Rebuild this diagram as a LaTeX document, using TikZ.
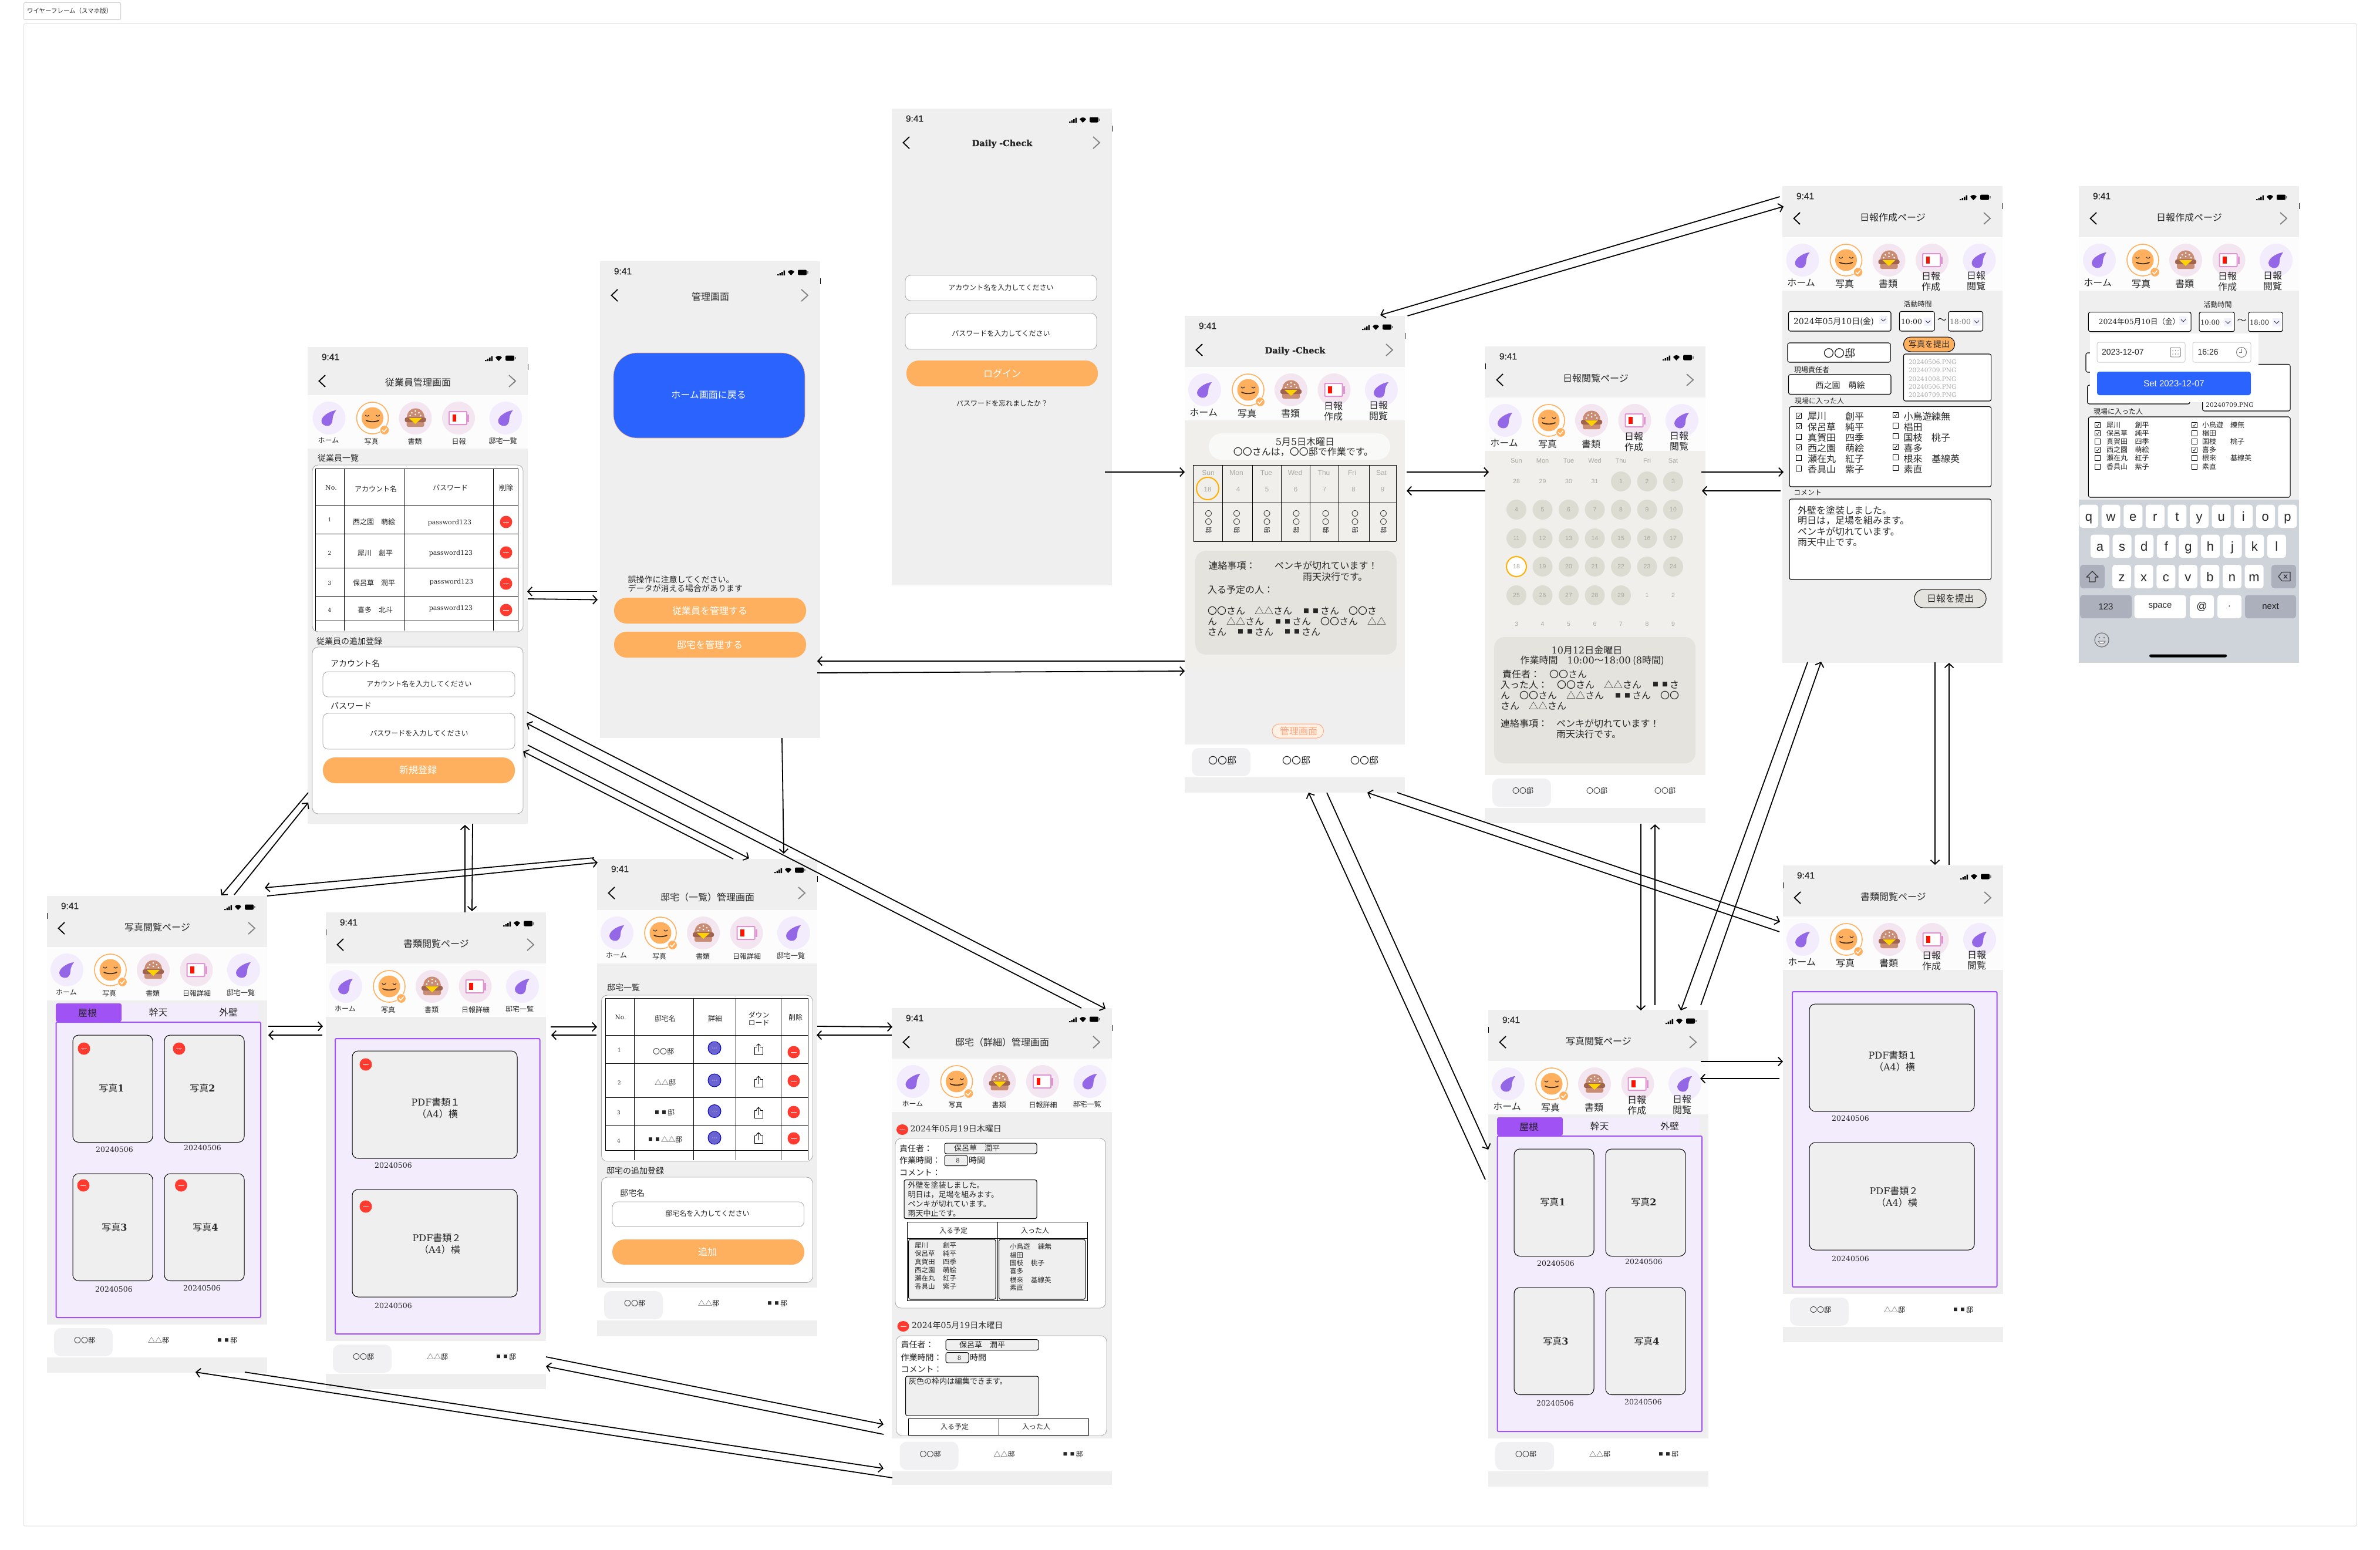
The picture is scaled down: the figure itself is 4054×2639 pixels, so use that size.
\documentclass[tikz,border=0pt]{standalone}
\usepackage{fontspec}
\setmainfont{Noto Sans CJK JP}
\newfontfamily\srf{DejaVu Serif}
\newfontfamily\snf{Liberation Sans}
\usetikzlibrary{arrows.meta}
\definecolor{scrbg}{HTML}{EFEFF0}
\definecolor{bandc}{HTML}{FDFCFD}
\definecolor{orng}{HTML}{FFB05F}
\definecolor{lpur}{HTML}{F3ECFC}
\definecolor{lpnk}{HTML}{F3E6F1}
\definecolor{leafc}{HTML}{9367E5}
\definecolor{purp}{HTML}{A052F5}
\definecolor{bluec}{HTML}{2B63FF}
\definecolor{beige}{HTML}{E5E3DD}
\definecolor{beigeb}{HTML}{F0EFEC}
\definecolor{dayc}{HTML}{DDDCD2}
\definecolor{dayt}{HTML}{A9A89F}
\definecolor{redc}{HTML}{FF3B30}
\definecolor{ringy}{HTML}{FFB000}
\definecolor{bbord}{HTML}{ABABAB}
\definecolor{tabp}{HTML}{F1F1F4}
\definecolor{keyd}{HTML}{ABB0BC}
\definecolor{keyb}{HTML}{CFD3DA}
\tikzset{
 x=1pt,y=-1pt,
 tt/.style={inner sep=0pt,outer sep=0pt,text=black!85},
 fs/.style={font=\fontsize{#1}{#1}\selectfont},
 L/.style={anchor=west},
 screen/.style={anchor=north west,minimum width=375pt,minimum height=812pt,fill=scrbg,inner sep=0pt,outer sep=0pt},
 conn/.style={line width=1.8pt,black,-{Straight Barb[length=7pt,width=15pt,line width=1.8pt]}},
 card/.style={draw=bbord,fill=white,line width=0.9pt,rounded corners=10pt},
 inputb/.style={draw=bbord,fill=white,line width=0.9pt,rounded corners=9pt},
 orbtn/.style={fill=orng,rounded corners=21pt},
 grid/.style={line width=1pt,black},
 blk/.style={draw=black,line width=1.1pt,fill=white,rounded corners=3pt},
 gbox/.style={draw=black,line width=1pt,fill=scrbg,rounded corners=3pt},
 panel/.style={draw=purp,line width=2pt,fill=lpur,rounded corners=2pt},
 photo/.style={draw=black,line width=1pt,fill=scrbg,rounded corners=10pt},
 key/.style={fill=white,rounded corners=5pt},
 dkey/.style={fill=keyd,rounded corners=5pt},
}
\newcount\txcnt
\newcommand\tx[4][]{\global\advance\txcnt by 1\relax\node[tt,#1] (t\the\txcnt) at (#2,#3) {#4};}
\newcommand\srn[1]{{\srf #1}}
\newcommand\sqq{\makebox[1em]{\raisebox{.13em}{\scalebox{.62}{■}}}}
\newcommand\dcheck{{\srf\bfseries\addfontfeature{FakeBold=1.4}\fontsize{14.5}{14.5}\selectfont Daily -Check}}
\newcommand\conx[3]{\coordinate (#1a) at (#2);\coordinate (#1b) at (#3);\draw[conn] (#1a) -- (#1b);}
% icons
\newcommand\icleaf[2]{\begin{scope}[shift={(#1,#2)}]
 \fill[lpur] (0,0) circle[radius=28pt];
 \fill[leafc] (12,-13) .. controls (4,-13) and (-13,-4) .. (-13,5) .. controls (-13,11) and (-7,13.5) .. (-3,13.5) .. controls (3,13.5) and (6,8) .. (6,2) .. controls (6,-4) and (9,-9) .. (12,-13) -- cycle;
\end{scope}}
\newcommand\icface[2]{\begin{scope}[shift={(#1,#2)}]
 \draw[orng,fill=white,line width=1.6pt] (0,0) circle[radius=27pt];
 \fill[orng] (0,0) circle[radius=18.5pt];
 \draw[black!80,line width=1.2pt,line cap=round] (-12,-5) .. controls (-10,-2.5) and (-8,-2.5) .. (-6,-5) (6,-5) .. controls (8,-2.5) and (10,-2.5) .. (12,-5);
 \draw[black!75!orng,line width=1.8pt,line cap=round] (-11,4) .. controls (-5,7) and (5,7) .. (11,4);
 \draw[white,fill=orng,line width=1pt] (20.5,20.5) circle[radius=8pt];
 \draw[white,line width=1.5pt] (16.5,20.5) -- (19.5,23.5) -- (24.5,17.5);
\end{scope}}
\definecolor{bunc}{HTML}{C98C74}
\definecolor{pattyc}{HTML}{A0644E}
\definecolor{battc}{HTML}{DE94CE}
\newcommand\icburger[2]{\begin{scope}[shift={(#1,#2)}]
 \fill[lpnk] (0,0) circle[radius=28pt];
 \fill[bunc,rounded corners=3pt] (-15,5) rectangle (15,15);
 \fill[bunc] (-15,0) .. controls (-15,-22) and (15,-22) .. (15,0) -- cycle;
 \fill[pattyc,rounded corners=3pt] (-18,-1) rectangle (18,7);
 \fill[yellow!70!orange] (-11,0) -- (11,0) -- (0,10) -- cycle;
 \foreach \a/\b in {0/-12,-6/-9,6/-9,-9/-4,0/-6,9/-4}{\fill[white] (\a,\b) circle[radius=1.5pt];}
\end{scope}}
\newcommand\icbatt[2]{\begin{scope}[shift={(#1,#2)}]
 \fill[lpnk] (0,0) circle[radius=28pt];
 \draw[battc,fill=white,line width=2pt,rounded corners=1pt] (-16,-11) rectangle (14,11);
 \fill[battc] (15,-6.5) rectangle (18,6.5);
 \fill[red!85!orange] (-10.3,-5.7) rectangle (-3.7,5.7);
\end{scope}}
\newcommand\icons[2]{%dx dy
 \fill[bandc] (0,87+#2) rectangle (375,178+#2);
 \icleaf{34+#1}{126+#2}\icface{108+#1}{126+#2}\icburger{181+#1}{126+#2}\icbatt{254.5+#1}{126+#2}\icleaf{335+#1}{126+#2}}
\newcommand\labA[3]{% dx dy 4th label
 \tx[fs=12]{33+#1}{164+#2}{ホーム}\tx[fs=12]{106+#1}{166+#2}{写真}\tx[fs=12]{180+#1}{166+#2}{書類}\tx[fs=12]{255+#1}{166+#2}{#3}\tx[fs=12]{330+#1}{165+#2}{邸宅一覧}}
\newcommand\labB{%
 \tx[fs=16]{32}{164}{ホーム}\tx[fs=16]{106}{166}{写真}\tx[fs=16]{180}{166}{書類}\tx[fs=16]{253}{153}{日報}\tx[fs=16]{253}{171}{作成}\tx[fs=16]{330}{152}{日報}\tx[fs=16]{330}{170}{閲覧}}
\newcommand\hdr[4]{% title ty cy edge
 \tx[fs=15.5]{39}{17}{\snf\addfontfeature{FakeBold=0.5}9:41}
 \fill[black] (302,22) rectangle (304.5,24) (305.5,20) rectangle (308,24) (309,18) rectangle (311.5,24) (312.5,15.5) rectangle (315,24);
 \fill[black] (320,18) .. controls (323,14) and (328,14) .. (331,18) -- (325.5,24) -- cycle;
 \fill[black,rounded corners=2pt] (337,14.5) rectangle (352,23.5);
 \fill[black!50] (353,17) rectangle (354.5,21);
 \draw[black,line width=1.8pt] (30,#3-10) -- (19.5,#3) -- (30,#3+10);
 \draw[black!50,line width=1.8pt] (343,#3-10) -- (354,#3) -- (343,#3+10);
 \tx[fs=16]{188}{#2}{#1}
 \draw[black,line width=1pt] (#4,29) -- (#4,39);}
\newcommand\tabsb[6]{% fs a b c dx dy
 \fill[white] (0,730+#6) rectangle (375,786+#6);
 \fill[tabp,rounded corners=12pt] (12+#5,736+#6) rectangle (112+#5,784+#6);
 \tx[fs=#1]{64+#5}{757+#6}{#2}\tx[fs=#1]{190+#5}{757+#6}{#3}\tx[fs=#1]{306+#5}{757+#6}{#4}}
\newcommand\minusb[2]{\fill[redc] (#1,#2) circle[radius=10.5pt];\draw[white,line width=0.8pt] (#1-5,#2) -- (#1+5,#2);}
\newcommand\phototabs{%
 \fill[lpur] (127,183) rectangle (360,213);
 \fill[purp,rounded corners=3pt] (15,183) rectangle (127,214);
 \tx[fs=16]{69}{199}{屋根}\tx[fs=16]{189.5}{198}{幹天}\tx[fs=16]{309}{198}{外壁}}
\newcommand\photopanel{%
 \draw[panel] (15.5,215) rectangle (364,718);
 \draw[photo] (44,237) rectangle (180,419.5);\draw[photo] (200,237) rectangle (336,419.5);
 \draw[photo] (44,473) rectangle (180,655.5);\draw[photo] (200,473) rectangle (336,655.5);
 \tx[fs=16]{110}{327}{写真{\srf\bfseries 1}}\tx[fs=16]{265}{327}{写真{\srf\bfseries 2}}
 \tx[fs=16]{115}{564}{写真{\srf\bfseries 3}}\tx[fs=16]{270}{564}{写真{\srf\bfseries 4}}
 \tx[fs=12.5]{115}{432}{\srf 20240506}\tx[fs=12.5]{265}{429}{\srf 20240506}
 \tx[fs=12.5]{114}{670}{\srf 20240506}\tx[fs=12.5]{264}{668}{\srf 20240506}}
\newcommand\docpanel{%
 \draw[panel] (16,215) rectangle (364.5,718);
 \draw[photo] (45,236) rectangle (326,419);\draw[photo] (45,472) rectangle (326,655);
 \tx[fs=16]{187}{323}{\srn{PDF}書類１}\tx[fs=16]{190}{343}{（\srn{A4}）横}
 \tx[fs=16]{189}{554}{\srn{PDF}書類２}\tx[fs=16]{194}{574}{（\srn{A4}）横}
 \tx[fs=12.5]{115}{431}{\srf 20240506}\tx[fs=12.5]{115}{670}{\srf 20240506}}
\newcommand\cb[3]{\draw[black,line width=0.9pt,fill=white] (#1-4.5,#2-4.5) rectangle (#1+4.5,#2+4.5);
 \ifnum#3=1 \draw[black,line width=0.7pt] (#1-2.5,#2) -- (#1-0.5,#2+2.2) -- (#1+2.7,#2-2.5);\fi}
\newcommand\ddn[2]{\fill[blue!5] (#1-7,#2-7) rectangle (#1+7,#2+7);\draw[black!80,line width=0.9pt] (#1-4,#2-2) -- (#1,#2+2) -- (#1+4,#2-2);}
\newcommand\sharei[2]{\draw[black,line width=1pt] (#1-3,#2-5) -- (#1-7,#2-5) -- (#1-7,#2+8) -- (#1+7,#2+8) -- (#1+7,#2-5) -- (#1+3,#2-5);
 \draw[black,line width=1pt] (#1,#2+3) -- (#1,#2-10) (#1-3.5,#2-6.5) -- (#1,#2-10) -- (#1+3.5,#2-6.5);}
\definecolor{detc}{HTML}{6A63D0}
\newcommand\detb[2]{\draw[blue!70!black,fill=detc,line width=1pt] (#1,#2) circle[radius=11pt];\fill[white] (#1-3,#2) circle[radius=.6pt] (#1,#2) circle[radius=.6pt] (#1+3,#2) circle[radius=.6pt];}
\begin{document}
\begin{tikzpicture}
\useasboundingbox (0,0) rectangle (4054,2639);
\fill[white] (0,0) rectangle (4054,2639);
% frame
\draw[black!12,line width=1pt,rounded corners=2pt] (40.5,40.5) rectangle (4014,2599);
\draw[black!18,line width=1pt,rounded corners=2pt] (40.5,4.5) rectangle (205.5,33.5);
\tx[fs=10.5,L]{46}{19}{ワイヤーフレーム（スマホ版）}

% ================ S1 employees
\node[screen] (s1) at (524,591) {};
\begin{scope}[shift={(524,591)}]
\hdr{従業員管理画面}{60}{58}{375}
\icons{2.5}{-5}
\labA{2.5}{-5}{日報}
\tx[fs=14,L]{17}{189}{従業員一覧}
\draw[card] (8,201) rectangle (367,485);
\draw[grid] (13,207) -- (358,207) (13,270) -- (358,270) (13,318) -- (358,318) (13,376) -- (358,376) (13,424) -- (358,424) (13,466) -- (358,466);
\draw[grid] (13,207) -- (13,483) (62,207) -- (62,483) (164,207) -- (164,483) (316,207) -- (316,483) (358,207) -- (358,483);
\tx[fs=11]{40}{240}{\srf No.}\tx[fs=12]{116}{242}{アカウント名}\tx[fs=12]{243}{240}{パスワード}\tx[fs=12]{338}{240}{削除}
\tx[fs=9]{37.5}{294}{\srf 1}\tx[fs=12]{113}{297.5}{西之園　萌絵}\tx[fs=11]{242}{299}{\srf password123}\minusb{338}{298}
\tx[fs=9]{37.5}{351}{\srf 2}\tx[fs=12]{115}{351}{犀川　創平}\tx[fs=11]{244}{351}{\srf password123}\minusb{338}{350}
\tx[fs=9]{37.5}{402}{\srf 3}\tx[fs=12]{113}{402}{保呂草　潤平}\tx[fs=11]{245}{400}{\srf password123}\minusb{338}{403}
\tx[fs=9]{37.5}{448}{\srf 4}\tx[fs=12]{115}{448}{喜多　北斗}\tx[fs=11]{244}{445}{\srf password123}\minusb{338}{448}
\tx[fs=14,L]{15}{501}{従業員の追加登録}
\draw[card] (8,511) rectangle (367,795);
\tx[fs=14,L]{39}{539}{アカウント名}
\draw[inputb] (26,553) rectangle (353,596);
\tx[fs=12]{190}{574}{アカウント名を入力してください}
\tx[fs=14,L]{39}{611}{パスワード}
\draw[inputb] (26,624) rectangle (353,685);
\tx[fs=12]{190}{658}{パスワードを入力してください}
\fill[orbtn] (26,699) rectangle (353,743);
\tx[fs=16,text=white]{188}{720}{新規登録}
\end{scope}

% ================ S2 admin
\node[screen] (s2) at (1022,445) {};
\begin{scope}[shift={(1022,445)}]
\hdr{管理画面}{60}{58}{375}
\draw[orng,fill=bluec,line width=.6pt,rounded corners=40pt] (23,156) rectangle (349,301);
\tx[fs=16,text=white]{185}{228}{ホーム画面に戻る}
\tx[fs=14,L]{47.5}{542}{誤操作に注意してください。}
\tx[fs=14,L]{47.5}{557}{データが消える場合があります}
\fill[orbtn] (24,573) rectangle (351,617);
\tx[fs=16,text=white]{187}{595}{従業員を管理する}
\fill[orbtn] (24,631) rectangle (351,675);
\tx[fs=16,text=white]{187}{653}{邸宅を管理する}
\end{scope}

% ================ S3 login
\node[screen] (s3) at (1519,185) {};
\begin{scope}[shift={(1519,185)}]
\hdr{\dcheck}{60}{58}{375}
\draw[inputb] (23,284) rectangle (349,327);
\tx[fs=12]{186}{305}{アカウント名を入力してください}
\draw[inputb] (23,349) rectangle (349,410);
\tx[fs=12]{186}{383}{パスワードを入力してください}
\fill[orbtn] (25,429) rectangle (351,473);
\tx[fs=16,text=white]{188}{451}{ログイン}
\tx[fs=12]{188}{502}{パスワードを忘れましたか？}
\end{scope}

% ================ S4 home
\node[screen] (s4) at (2018,538) {};
\begin{scope}[shift={(2018,538)}]
\fill[beigeb] (0,179) rectangle (375,600);
\hdr{\dcheck}{60}{58}{375}
\icons{0}{0}
\labB
\fill[white!60!beigeb,rounded corners=22pt] (41,200) rectangle (350,245);
\tx[fs=16]{205}{214}{\srn{5}月\srn{5}日木曜日}
\tx[fs=16]{202}{232}{〇〇さんは，〇〇邸で作業です。}
\draw[grid] (14.7,254) -- (360,254) (14.7,318) -- (360,318) (14.7,384) -- (360,384);
\draw[grid] (14.7,254) -- (14.7,384) (64,254) -- (64,384) (115,254) -- (115,384) (164,254) -- (164,384) (213,254) -- (213,384) (262,254) -- (262,384) (314,254) -- (314,384) (360,254) -- (360,384);
\foreach \xa/\wdn/\xb/\dn/\xc in {40/Sun/39/18/40.5,88/Mon/91/4/88.6,139/Tue/140/5/140,188/Wed/189/6/190,237/Thu/238/7/240,285/Fri/287.5/8/290,335/Sat/337/9/338.6}{
 \tx[fs=12,text=dayt]{\xa}{267}{\snf \wdn}
 \ifnum\dn=18 \draw[ringy,line width=2pt] (\xb,294) circle[radius=19pt];\fi
 \tx[fs=11.5,text=dayt]{\xb}{296}{\snf \dn}
 \tx[fs=12]{\xc}{337}{〇}\tx[fs=12]{\xc}{351}{〇}\tx[fs=11]{\xc}{365}{邸}}
\fill[beige,rounded corners=18pt] (18,400) rectangle (361,577);
\tx[fs=16,L]{40.5}{425}{連絡事項：}\tx[fs=16,L]{153}{425}{ペンキが切れています！}\tx[fs=16,L]{201}{444}{雨天決行です。}
\tx[fs=16,L]{39}{466}{入る予定の人：}
\tx[fs=16,L]{39}{502}{〇〇さん　△△さん　\sqq\sqq さん　〇〇さ}
\tx[fs=16,L]{39}{520}{ん　△△さん　\sqq\sqq さん　〇〇さん　△△}
\tx[fs=16,L]{39}{538}{さん　\sqq\sqq さん　\sqq\sqq さん}
\draw[orange!60!red!50!white,fill=orange!10!white,line width=1pt,rounded corners=12pt] (149,695) rectangle (236.5,719);
\tx[fs=16,text=orange!60!red!50!white]{194}{707}{管理画面}
\tabsb{16}{〇〇邸}{〇〇邸}{〇〇邸}{0}{0}
\end{scope}

% ================ S5 calendar
\node[screen] (s5) at (2530,590) {};
\begin{scope}[shift={(2530,590)}]
\fill[beigeb] (0,178) rectangle (375,730);
\hdr{日報閲覧ページ}{54}{57}{0}
\icons{0}{0}
\labB
\foreach \wdn [count=\i from 0] in {Sun,Mon,Tue,Wed,Thu,Fri,Sat}{\pgfmathsetmacro\xx{53+44.5*\i}\tx[fs=11,text=dayt]{\xx}{194.6}{\snf \wdn}}
\foreach \yy/\row in {230/{28/0,29/0,30/0,31/0,1/1,2/1,3/1},278/{4/1,5/1,6/1,7/1,8/1,9/1,10/1},327/{11/1,12/1,13/1,14/1,15/1,16/1,17/1},375/{18/2,19/1,20/1,21/1,22/1,23/1,24/1},424/{25/1,26/1,27/1,28/1,29/1,1/0,2/0},473/{3/0,4/0,5/0,6/0,7/0,8/0,9/0}}{
 \foreach \n/\c [count=\i from 0] in \row {
  \pgfmathsetmacro\xx{53+44.5*\i}
  \ifnum\c=1 \fill[dayc] (\xx,\yy) circle[radius=17pt];\fi
  \ifnum\c=2 \draw[ringy,fill=white,line width=2pt] (\xx,\yy) circle[radius=17pt];\fi
  \tx[fs=10.5,text=dayt]{\xx}{\yy}{\snf \n}}}
\fill[beige,rounded corners=18pt] (15,495) rectangle (358,710);
\tx[fs=16]{173}{517}{\srn{10}月\srn{12}日金曜日}
\tx[fs=16]{182}{535}{作業時間　\srn{10:00}〜\srn{18:00} (\srn{8}時間)}
\tx[fs=16,L]{29}{558}{責任者：　〇〇さん}
\tx[fs=16,L]{26}{576}{入った人：　〇〇さん　△△さん　\sqq\sqq さ}
\tx[fs=16,L]{26}{594}{ん　〇〇さん　△△さん　\sqq\sqq さん　〇〇}
\tx[fs=16,L]{26}{612}{さん　△△さん}
\tx[fs=16,L]{26}{642}{連絡事項：}\tx[fs=16,L]{121}{642}{ペンキが切れています！}\tx[fs=16,L]{121}{660}{雨天決行です。}
\tabsb{12}{〇〇邸}{〇〇邸}{〇〇邸}{0}{0}
\end{scope}

% ================ S6 report
\node[screen] (s6) at (3036,317) {};
\begin{scope}[shift={(3036,317)}]
\hdr{日報作成ページ}{53}{55}{375}
\icons{0.5}{0}
\labB
\tx[fs=12]{230.6}{200.5}{活動時間}
\draw[blk] (10.5,213.5) rectangle (185,247);
\tx[fs=14,L]{19}{231}{\srn{2024}年\srn{05}月\srn{10}日(金)}\ddn{172}{228}
\draw[blk] (199.5,213.5) rectangle (259,247);
\tx[fs=12.5,L]{202}{231}{\srf 10:00}\ddn{248}{231}
\tx[fs=16]{272}{229}{〜}
\draw[blk] (283,213.5) rectangle (341.5,247);
\tx[fs=12.5,L,text=black!55]{285}{231}{\srf 18:00}\ddn{331}{231}
\draw[black,fill=orng,line width=1pt,rounded corners=12pt] (206.5,257) rectangle (293.5,282);
\tx[fs=14]{250}{269.5}{写真を提出}
\draw[blk] (9,267) rectangle (184,300);
\tx[fs=18]{97}{285}{〇〇邸}
\tx[fs=12]{50}{313}{現場責任者}
\draw[blk] (10.5,321) rectangle (185,354.5);
\tx[fs=14]{98.6}{339}{西之園　萌絵}
\draw[blk] (206.5,286) rectangle (355.6,366);
\foreach \n/\yy in {20240506/300,20240709/314,20241008/328.5,20240506/342,20240709/356}{\tx[fs=10.5,L,text=bbord]{215}{\yy}{\srf \n.PNG}}
\tx[fs=12]{63}{366.5}{現場に入った人}
\draw[blk] (12,375.6) rectangle (355.6,512);
\foreach \a/\b/\c/\e/\f/\g/\yy in {犀川/創平/1/小鳥遊/練無/1/392,保呂草/純平/1/椙田//0/410,真賀田/四季/0/国枝/桃子/0/428,西之園/萌絵/1/喜多//1/446,瀬在丸/紅子/0/根來/基線英/0/464,香具山/紫子/0/素直//0/482}{
 \cb{28}{\yy-1}{\c}\tx[fs=16,L]{43}{\yy}{\a}\tx[fs=16,L]{107}{\yy}{\b}
 \cb{193}{\yy-2}{\g}\tx[fs=16,L]{206.5}{\yy}{\e}\tx[fs=16,L]{254}{\yy}{\f}}
\tx[fs=12]{43}{522.5}{コメント}
\draw[blk] (12,533) rectangle (355.6,670);
\tx[fs=16,L]{26}{552}{外壁を塗装しました。}\tx[fs=16,L]{26}{570}{明日は，足場を組みます。}\tx[fs=16,L]{26}{588}{ペンキが切れています。}\tx[fs=16,L]{26}{606}{雨天中止です。}
\draw[black,fill=beige,line width=1pt,rounded corners=15pt] (225,687) rectangle (347,718);
\tx[fs=16]{286}{702}{日報を提出}
\end{scope}

% ================ S7 picker
\node[screen] (s7) at (3541,317) {};
\begin{scope}[shift={(3541,317)}]
\hdr{日報作成ページ}{53}{55}{375}
\icons{1}{0}
\labB
\tx[fs=12]{236.5}{201.6}{活動時間}
\draw[blk] (16.4,214.6) rectangle (191,247.7);
\tx[fs=12.5,L]{33.5}{231}{\srn{2024}年\srn{05}月\srn{10}日（金）}\ddn{178}{229}
\draw[blk] (205,214.6) rectangle (265,247.7);
\tx[fs=11.5,L]{207}{232}{\srf 10:00}\ddn{254}{232}
\tx[fs=16]{277.6}{230}{〜}
\draw[blk] (289,214.6) rectangle (347,247.7);
\tx[fs=11.5,L]{291}{232}{\srf 18:00}\ddn{337}{232}
\draw[blk] (12,284) rectangle (100,317);
\draw[blk] (14.7,339) rectangle (189,371);
\draw[blk] (210.7,303.5) rectangle (360,383);
\tx[fs=10.5]{257}{373}{\srf 20240709.PNG}
\fill[white] (19,251) rectangle (306,368);
\draw[draw=black!18,line width=1pt,fill=white,rounded corners=3pt] (31,266) rectangle (181,300);
\tx[fs=14,L]{39}{283}{\snf 2023-12-07}
\draw[black!55,line width=.9pt,rounded corners=2pt] (156,275) rectangle (173,291);
\fill[black!55] (160,280) circle[radius=.8pt] (164.5,280) circle[radius=.8pt] (169,280) circle[radius=.8pt] (160,286) circle[radius=.8pt] (164.5,286) circle[radius=.8pt] (169,286) circle[radius=.8pt];
\draw[draw=black!18,line width=1pt,fill=white,rounded corners=3pt] (194,266) rectangle (293,300);
\tx[fs=14,L]{202.5}{283}{\snf 16:26}
\draw[black!55,line width=.9pt] (277,283) circle[radius=8.5pt];
\draw[black!55,line width=.9pt] (277,277) -- (277,283) -- (273,283);
\fill[bluec,rounded corners=4pt] (31,316) rectangle (293,356);
\tx[fs=15,text=white]{162}{336}{\snf Set 2023-12-07}
\tx[fs=12]{67}{384}{現場に入った人}
\draw[blk] (16.4,393) rectangle (360,530);
\foreach \a/\b/\c/\e/\f/\g/\yy in {犀川/創平/1/小鳥遊/練無/1/407,保呂草/純平/1/椙田//0/421,真賀田/四季/0/国枝/桃子/0/435,西之園/萌絵/1/喜多//1/449,瀬在丸/紅子/0/根來/基線英/0/463,香具山/紫子/0/素直//0/477.5}{
 \cb{32}{\yy}{\c}\tx[fs=12,L]{47}{\yy}{\a}\tx[fs=12,L]{95.6}{\yy}{\b}
 \cb{196.6}{\yy}{\g}\tx[fs=12,L]{210}{\yy}{\e}\tx[fs=12,L]{258}{\yy}{\f}}
\fill[keyb] (0,534) rectangle (375,812);
\foreach \k [count=\i from 0] in {q,w,e,r,t,y,u,i,o,p}{\pgfmathsetmacro\xx{17+37.6*\i}\fill[key] (\xx-16,542.6) rectangle (\xx+16,582);\tx[fs=22,anchor=base]{\xx}{570}{\snf \k}}
\foreach \k [count=\i from 0] in {a,s,d,f,g,h,j,k,l}{\pgfmathsetmacro\xx{36+37.6*\i}\fill[key] (\xx-16,593.5) rectangle (\xx+16,633);\tx[fs=22,anchor=base]{\xx}{621}{\snf \k}}
\foreach \k [count=\i from 0] in {z,x,c,v,b,n,m}{\pgfmathsetmacro\xx{73+37.6*\i}\fill[key] (\xx-16,645) rectangle (\xx+16,685);\tx[fs=22,anchor=base]{\xx}{673}{\snf \k}}
\fill[dkey] (2,645) rectangle (44,685);
\draw[black!80,line width=1.2pt,line join=round] (23,656) -- (13,666) -- (18,666) -- (18,674) -- (28,674) -- (28,666) -- (33,666) -- cycle;
\fill[dkey] (328,645) rectangle (370,685);
\draw[black!80,line width=1.2pt,line join=round] (340,665) -- (346,657.5) -- (360,657.5) -- (360,672.5) -- (346,672.5) -- cycle (349,661.5) -- (355,668.5) (355,661.5) -- (349,668.5);
\fill[dkey] (2,696.5) rectangle (90,736);\tx[fs=15]{46}{716}{\snf 123}
\fill[key] (94.5,696.5) rectangle (182.5,736);\tx[fs=15]{138.5}{716}{\snf space}
\fill[key] (189,696.5) rectangle (230,736);\tx[fs=18]{209.5}{716}{\snf @}
\fill[key] (236,696.5) rectangle (277,736);\tx[fs=15]{256.5}{716}{\snf .}
\fill[dkey] (283,696.5) rectangle (370,736);\tx[fs=15]{326.5}{716}{\snf next}
\draw[black!55,line width=1.2pt] (39,773) circle[radius=12pt];
\fill[black!55] (35,769) circle[radius=1.4pt] (43,769) circle[radius=1.4pt];
\draw[black!55,fill=white,line width=1pt] (33,775) .. controls (35,781) and (43,781) .. (45,775) -- cycle;
\fill[black,rounded corners=2.5pt] (120,797.5) rectangle (252,802.5);
\end{scope}

% ================ S8 photos left
\node[screen] (s8) at (80,1526) {};
\begin{scope}[shift={(80,1526)}]
\hdr{写真閲覧ページ}{53}{55}{0}
\icons{0}{0}
\labA{0}{0}{日報詳細}
\phototabs
\photopanel
\minusb{63}{260}\minusb{225}{260}\minusb{62}{493}\minusb{228.5}{493}
\tabsb{12}{〇〇邸}{△△邸}{\sqq\sqq 邸}{0}{0}
\end{scope}

% ================ S9 docs left
\node[screen] (s9) at (555,1554) {};
\begin{scope}[shift={(555,1554)}]
\hdr{書類閲覧ページ}{53}{55}{0}
\icons{0}{0}
\labA{0}{0}{日報詳細}
\docpanel
\minusb{68}{259}\minusb{68}{501}
\tabsb{12}{〇〇邸}{△△邸}{\sqq\sqq 邸}{0}{0}
\end{scope}

% ================ S10 housing list
\node[screen] (s10) at (1017,1463) {};
\begin{scope}[shift={(1017,1463)}]
\hdr{邸宅（一覧）管理画面}{65}{58}{375}
\icons{0}{0}
\labA{0}{0}{日報詳細}
\tx[fs=14,L]{17}{219}{邸宅一覧}
\draw[card] (7.5,232) rectangle (367,515);
\draw[grid] (14,237) -- (359,237) (14,300) -- (359,300) (14,348) -- (359,348) (14,406) -- (359,406) (14,453) -- (359,453) (14,496) -- (359,496);
\draw[grid] (14,237) -- (14,496) (63,237) -- (63,513) (164,237) -- (164,513) (236,237) -- (236,513) (313,237) -- (313,513) (359,237) -- (359,513);
\tx[fs=10.5]{40}{270}{\srf No.}\tx[fs=12]{116}{272}{邸宅名}\tx[fs=12]{201}{272}{詳細}\tx[fs=12]{275.5}{266}{ダウン}\tx[fs=12]{275.5}{279}{ロード}\tx[fs=12]{338}{270}{削除}
\tx[fs=9]{38}{325}{\srf 1}\tx[fs=12]{113}{328}{〇〇邸}\detb{200}{322}\sharei{275}{325}\minusb{335}{329}
\tx[fs=9]{38}{381}{\srf 2}\tx[fs=12]{116}{381}{△△邸}\detb{200}{377}\sharei{275}{380}\minusb{335}{378}
\tx[fs=9]{37}{432}{\srf 3}\tx[fs=12]{114}{432}{\sqq\sqq 邸}\detb{200}{429.5}\sharei{275}{433}\minusb{335}{431}
\tx[fs=9]{37}{480}{\srf 4}\tx[fs=12]{115}{478}{\sqq\sqq △△邸}\detb{200}{475}\sharei{275}{476}\minusb{335}{476}
\tx[fs=14,L]{16}{531}{邸宅の追加登録}
\draw[card] (7.5,542) rectangle (367,721.5);
\tx[fs=14,L]{39}{569}{邸宅名}
\draw[inputb] (26,584) rectangle (352.5,626.5);
\tx[fs=12]{188}{604}{邸宅名を入力してください}
\fill[orbtn] (26,648) rectangle (353,691);
\tx[fs=16,text=white]{188}{669}{追加}
\tabsb{12}{〇〇邸}{△△邸}{\sqq\sqq 邸}{0}{0}
\end{scope}

% ================ S11 housing detail
\node[screen] (s11) at (1519,1717) {};
\begin{scope}[shift={(1519,1717)}]
\hdr{邸宅（詳細）管理画面}{58}{58}{375}
\icons{2.5}{-1}
\labA{2.5}{-1}{日報詳細}
\fill[redc] (18,207) ellipse[x radius=10pt,y radius=9pt];\draw[white,line width=.8pt] (13,207) -- (23,207);
\tx[fs=14,L]{31.5}{205.6}{\srn{2024}年\srn{05}月\srn{19}日木曜日}
\draw[card] (6,222) rectangle (364.5,511);
\tx[fs=14,L]{13}{239}{責任者：}\draw[gbox] (90,230) rectangle (247,248);\tx[fs=13]{145}{239}{保呂草　潤平}
\tx[fs=14,L]{13}{259.5}{作業時間：}\draw[gbox] (90,251) rectangle (129,268.5);\tx[fs=10]{112.5}{260}{\srf 8}\tx[fs=14,L]{131}{259.5}{時間}
\tx[fs=14,L]{13}{280}{コメント：}
\draw[gbox] (21,292.6) rectangle (247,358.7);
\tx[fs=13,L]{27.5}{301.5}{外壁を塗装しました。}\tx[fs=13,L]{27.5}{318}{明日は，足場を組みます。}\tx[fs=13,L]{27.5}{334}{ペンキが切れています。}\tx[fs=13,L]{27.5}{350}{雨天中止です。}
\draw[black,line width=1pt] (26.4,364) rectangle (333.6,498.5) (26.4,392) -- (333.6,392) (180,364) -- (180,498.5);
\tx[fs=12]{105}{378.7}{入る予定}\tx[fs=12]{244}{378.7}{入った人}
\draw[gbox] (28.7,394) rectangle (177,496);\draw[gbox] (182.5,394) rectangle (329.5,496);
\foreach \a/\b/\yy in {犀川/創平/404,保呂草/純平/418.6,真賀田/四季/432.4,西之園/萌絵/446,瀬在丸/紅子/460,香具山/紫子/474.4}{\tx[fs=11.5,L]{39}{\yy}{\a}\tx[fs=11.5,L]{87}{\yy}{\b}}
\foreach \a/\b/\xb/\yy in {小鳥遊/練無/249/406,椙田//249/420.7,国枝/桃子/237/434.5,喜多//237/448,根來/基線英/237/462.7,素直//237/476.5}{\tx[fs=11.5,L]{201}{\yy}{\a}\tx[fs=11.5,L]{\xb}{\yy}{\b}}
\fill[redc] (19.5,542) ellipse[x radius=10pt,y radius=9pt];\draw[white,line width=.8pt] (14.5,542) -- (24.5,542);
\tx[fs=14,L]{34}{540.5}{\srn{2024}年\srn{05}月\srn{19}日木曜日}
\draw[card] (7.5,558) rectangle (366,728);
\tx[fs=14,L]{15.5}{573.6}{責任者：}\draw[gbox] (92,564.6) rectangle (250,582.5);\tx[fs=13]{154}{573.6}{保呂草　潤平}
\tx[fs=14,L]{15.5}{595}{作業時間：}\draw[gbox] (92,586.6) rectangle (131,604);\tx[fs=10]{115}{595.5}{\srf 8}\tx[fs=14,L]{133}{595}{時間}
\tx[fs=14,L]{15.5}{615.6}{コメント：}
\draw[gbox] (23.5,627) rectangle (250,694);
\tx[fs=13,L]{29}{636}{灰色の枠内は編集できます。}
\draw[black,line width=1pt] (28,699) rectangle (335,727) (182,699) -- (182,727);
\tx[fs=12]{107}{713}{入る予定}\tx[fs=12]{246}{713}{入った人}
\tabsb{12}{〇〇邸}{△△邸}{\sqq\sqq 邸}{1.5}{2.5}
\end{scope}

% ================ S12 photos right
\node[screen] (s12) at (2535,1720) {};
\begin{scope}[shift={(2535,1720)}]
\hdr{写真閲覧ページ}{53}{55}{0}
\icons{0}{0}
\labB
\phototabs
\photopanel
\tabsb{12}{〇〇邸}{△△邸}{\sqq\sqq 邸}{0}{0}
\end{scope}

% ================ S13 docs right
\node[screen] (s13) at (3037,1474) {};
\begin{scope}[shift={(3037,1474)}]
\hdr{書類閲覧ページ}{53}{55}{0}
\icons{0}{0}
\labB
\docpanel
\tabsb{12}{〇〇邸}{△△邸}{\sqq\sqq 邸}{0}{0}
\end{scope}

% ================ connectors
\conx{a1}{1017,1007.4}{898,1007.4}
\conx{a2}{899,1020}{1018,1021.5}
\conx{b1}{2018,1126}{1392,1126}
\conx{b2}{1392,1146}{2018,1143}
\conx{c1}{1882,804}{2018,804}
\conx{d1}{2396,804}{2536,804}
\conx{d2}{2530,836}{2396,836}
\conx{e1}{2898,804}{3038,804}
\conx{e2}{3033,836}{2899,836}
\conx{f1}{3031.6,335}{2351,536.7}
\conx{f2}{2397.5,538}{3038,351.7}
\conx{g1}{525,1350}{377,1525}
\conx{g2}{399,1524}{525,1367}
\conx{h1}{1012,1461}{451,1512}
\conx{h2}{455,1526}{1018,1469}
\conx{i1}{792,1554}{792,1405}
\conx{i2}{805,1403}{804,1552}
\conx{j1}{457,1748}{550,1748}
\conx{j2}{549,1763}{457,1763}
\conx{k1}{938,1749}{1017,1749}
\conx{k2}{1016,1763}{939,1763}
\conx{l1}{1392,1748}{1520,1749}
\conx{l2}{1519,1763}{1391,1763}
\conx{m1}{898,1213}{1883,1718}
\conx{m2}{1842,1717}{897,1232}
\conx{m3}{899,1269}{1276,1462}
\conx{m4}{1249,1463}{891,1280}
\conx{m5}{1332,1257}{1335,1454}
\conx{n1}{930,2311}{1505,2426}
\conx{n2}{1505,2443}{930,2327}
\conx{n3}{1520,2517}{333,2337}
\conx{n4}{417,2337}{1505,2501}
\conx{o1}{3079,1128}{2863,1721}
\conx{o2}{2897,1712}{3102,1127}
\conx{p1}{2795,1403}{2795,1721}
\conx{p2}{2819,1712}{2819,1404}
\conx{q1}{3296,1128}{3296,1473}
\conx{q2}{3320,1473}{3320,1129}
\conx{r1}{2380,1350}{3032,1570}
\conx{r2}{3031,1587}{2329,1350}
\conx{u1}{2260,1350}{2535,1958}
\conx{u2}{2530,2009}{2229,1350}
\conx{v1}{2897,1808}{3037,1808}
\conx{v2}{3031,1837}{2896,1837}
\end{tikzpicture}
\end{document}
